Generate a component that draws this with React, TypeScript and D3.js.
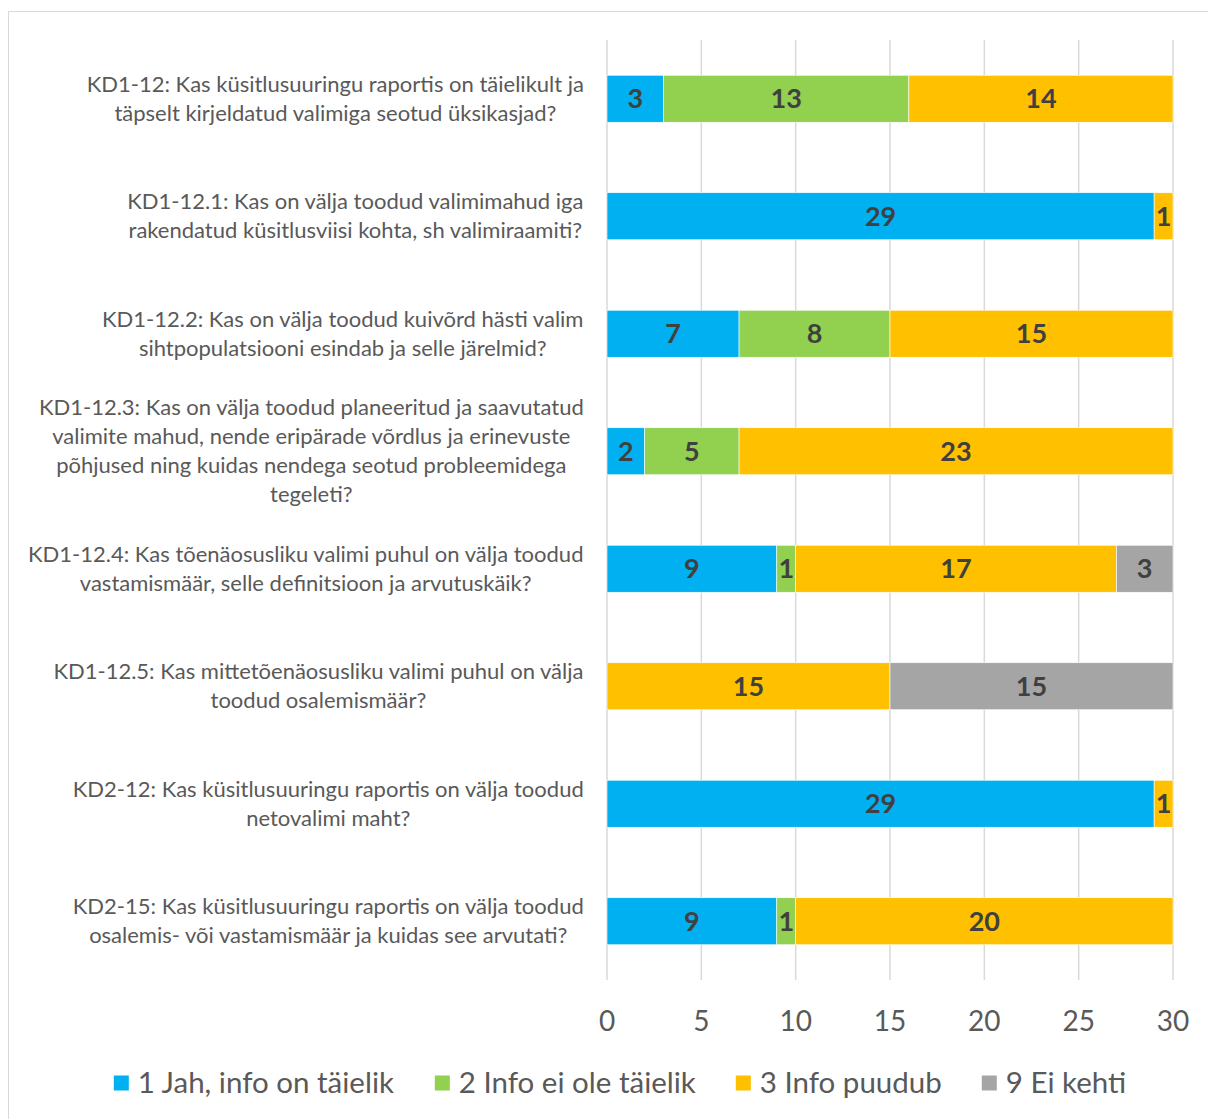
import React from "react";
import * as d3 from "d3";

const categories = [
  "KD1-12: Kas küsitlusuuringu raportis on täielikult ja|täpselt kirjeldatud valimiga seotud üksikasjad?",
  "KD1-12.1: Kas on välja toodud valimimahud iga|rakendatud küsitlusviisi kohta, sh valimiraamiti?",
  "KD1-12.2: Kas on välja toodud kuivõrd hästi valim|sihtpopulatsiooni esindab ja selle järelmid?",
  "KD1-12.3: Kas on välja toodud planeeritud ja saavutatud|valimite mahud, nende eripärade võrdlus ja erinevuste|põhjused ning kuidas nendega seotud probleemidega|tegeleti?",
  "KD1-12.4: Kas tõenäosusliku valimi puhul on välja toodud|vastamismäär, selle definitsioon ja arvutuskäik?",
  "KD1-12.5: Kas mittetõenäosusliku valimi puhul on välja|toodud osalemismäär?",
  "KD2-12: Kas küsitlusuuringu raportis on välja toodud|netovalimi maht?",
  "KD2-15: Kas küsitlusuuringu raportis on välja toodud|osalemis- või vastamismäär ja kuidas see arvutati?",
];

const seriesNames = ["1 Jah, info on täielik", "2 Info ei ole täielik", "3 Info puudub", "9 Ei kehti"];
const seriesColors = ["#00B0F0", "#92D050", "#FFC000", "#A5A5A5"];

const jah = [3, 29, 7, 2, 9, 0, 29, 9];
const eiTaielik = [13, 0, 8, 5, 1, 0, 0, 1];
const puudub = [14, 1, 15, 23, 17, 15, 1, 20];
const eiKehti = [0, 0, 0, 0, 3, 15, 0, 0];

const xTicks = [0, 5, 10, 15, 20, 25, 30];

const FONT = "Lato, 'Open Sans', sans-serif";

function measure(text: string, size: number, weight = "normal"): number {
  const c = document.createElement("canvas").getContext("2d")!;
  c.font = `${weight} ${size}px Lato`;
  return c.measureText(text).width;
}

export default function App() {
  const W = 1208;
  const H = 1119;
  const left = 607;
  const right = 1173;
  const top = 40;
  const bottom = 980;

  const x = d3.scaleLinear().domain([0, 30]).range([left, right]);
  const y = d3
    .scaleBand<number>()
    .domain(d3.range(categories.length))
    .range([top, bottom])
    .paddingInner(0.6)
    .paddingOuter(0.3);

  const rows = categories.map((_, i) => ({
    i,
    vals: [jah[i], eiTaielik[i], puudub[i], eiKehti[i]],
  }));
  const stack = d3.stack<any>().keys(["0", "1", "2", "3"]).value((d: any, k) => d.vals[+k]);
  const stacked = stack(rows);

  const labelFs = 22;
  const lineH = 29;
  const labelRight = 584;

  const legendFs = 29.5;
  const legendWidths = seriesNames.map((s) => measure(s, legendFs));
  const sq = 15;
  const gapSqText = 9;
  const gapItems = 40;
  const totalLegend =
    legendWidths.reduce((a, b) => a + b, 0) + seriesNames.length * (sq + gapSqText) + gapItems * (seriesNames.length - 1);
  let lx = 620 - totalLegend / 2;
  const legendItems = seriesNames.map((s, i) => {
    const item = { s, i, x: lx };
    lx += sq + gapSqText + legendWidths[i] + gapItems;
    return item;
  });

  return (
    <svg width={W} height={H} style={{ display: "block", position: "absolute", left: 0, top: 0 }} fontFamily={FONT}>
      <rect x={0} y={0} width={W} height={H} fill="#fff" />
      <rect x={8.5} y={11.5} width={W + 10} height={H + 10} fill="#fff" stroke="#d9d9d9" strokeWidth={1} />
      {xTicks.map((t) => (
        <line key={t} x1={x(t)} x2={x(t)} y1={top} y2={bottom} stroke="#d9d9d9" strokeWidth={1.5} />
      ))}
      {stacked.map((layer, si) =>
        layer.map((d, ri) => {
          const v = d[1] - d[0];
          if (v <= 0) return null;
          const y0 = y(ri)!;
          const bw = y.bandwidth();
          return (
            <g key={`${si}-${ri}`}>
              <rect
                x={x(d[0])}
                y={y0}
                width={x(d[1]) - x(d[0])}
                height={bw}
                fill={seriesColors[si]}
                stroke="#fff"
                strokeWidth={0.6}
              />
              <text
                x={(x(d[0]) + x(d[1])) / 2}
                y={y0 + bw / 2}
                dy="0.36em"
                textAnchor="middle"
                fontSize={27}
                fontWeight="bold"
                fill="#404040"
              >
                {v}
              </text>
            </g>
          );
        })
      )}
      {categories.map((c, i) => {
        const lines = c.split("|");
        const maxW = Math.max(...lines.map((l) => measure(l, labelFs)));
        const cx = labelRight - maxW / 2;
        const cy = y(i)! + y.bandwidth() / 2;
        const startY = cy - ((lines.length - 1) * lineH) / 2;
        return (
          <text key={i} textAnchor="middle" fontSize={labelFs} fill="#595959">
            {lines.map((l, li) => (
              <tspan key={li} x={cx} y={startY + li * lineH} dy="0.35em">
                {l}
              </tspan>
            ))}
          </text>
        );
      })}
      {xTicks.map((t) => (
        <text key={t} x={x(t)} y={1021} dy="0.35em" textAnchor="middle" fontSize={28} fill="#595959">
          {t}
        </text>
      ))}
      {legendItems.map((it) => (
        <g key={it.i}>
          <rect x={it.x} y={1083 - sq / 2} width={sq} height={sq} fill={seriesColors[it.i]} />
          <text x={it.x + sq + gapSqText} y={1083} dy="0.35em" fontSize={legendFs} fill="#595959">
            {it.s}
          </text>
        </g>
      ))}
    </svg>
  );
}
